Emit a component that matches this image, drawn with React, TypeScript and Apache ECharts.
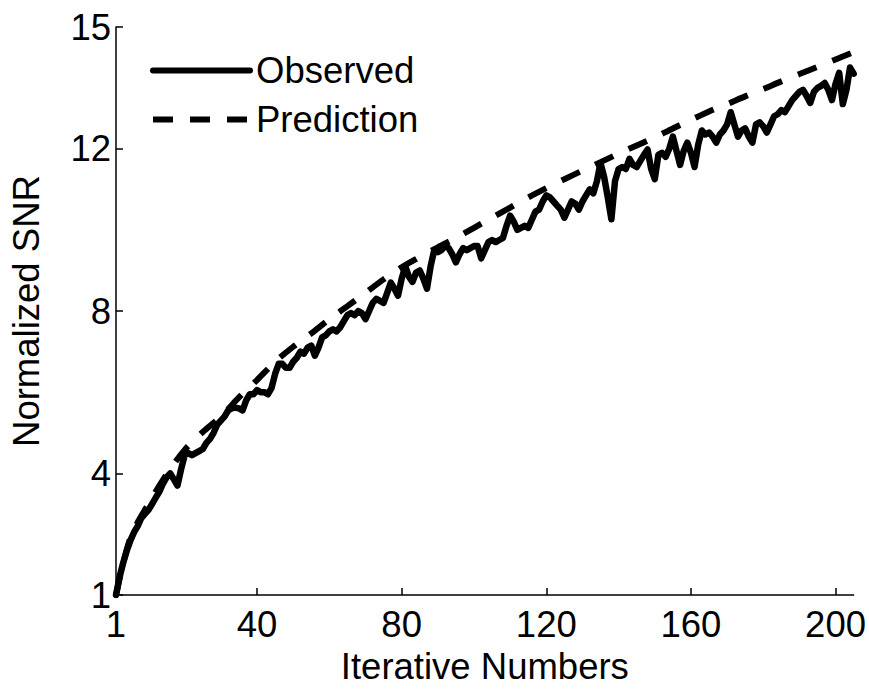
import React, { useEffect, useRef } from "react";
import * as echarts from "echarts";

const xTicks = [1, 40, 80, 120, 160, 200];
const yTicks = [1, 4, 8, 12, 15];

// Prediction curve, read at every 5th iteration
const predictionX = [1, 5, 10, 15, 20, 25, 30, 35, 40, 45, 50, 55, 60, 65, 70, 75, 80, 85, 90, 95, 100, 105, 110, 115, 120, 125, 130, 135, 140, 145, 150, 155, 160, 165, 170, 175, 180, 185, 190, 195, 200, 205];
const predictionY = [1.0, 2.42, 3.25, 3.98, 4.58, 5.02, 5.4, 5.87, 6.3, 6.75, 7.12, 7.45, 7.8, 8.12, 8.45, 8.78, 9.08, 9.33, 9.57, 9.8, 10.05, 10.3, 10.55, 10.8, 11.03, 11.25, 11.46, 11.67, 11.88, 12.08, 12.28, 12.5, 12.71, 12.92, 13.1, 13.29, 13.47, 13.66, 13.84, 14.02, 14.2, 14.38];

// Observed SNR, iterations 1..205
const observed = [
  1.0, 1.45, 1.8, 2.1, 2.35, 2.55, 2.7, 2.9, 3.0, 3.1,
  3.25, 3.4, 3.55, 3.75, 3.9, 4.0, 3.85, 3.7, 4.1, 4.45,
  4.5, 4.45, 4.5, 4.55, 4.6, 4.75, 4.85, 5.0, 5.2, 5.3,
  5.4, 5.55, 5.6, 5.62, 5.6, 5.55, 5.8, 5.95, 5.95, 6.05,
  6.0, 6.0, 5.95, 6.1, 6.45, 6.7, 6.7, 6.6, 6.6, 6.75,
  6.85, 7.0, 6.95, 7.1, 7.15, 6.9, 7.1, 7.35, 7.4, 7.5,
  7.55, 7.5, 7.6, 7.75, 7.9, 7.95, 7.9, 8.0, 7.95, 7.8,
  8.0, 8.2, 8.3, 8.25, 8.2, 8.45, 8.7, 8.55, 8.38, 8.8,
  9.1, 8.85, 8.72, 8.95, 9.0, 8.8, 8.55, 9.1, 9.5, 9.45,
  9.5, 9.6, 9.55, 9.4, 9.2, 9.4, 9.55, 9.5, 9.55, 9.6,
  9.6, 9.3, 9.5, 9.7, 9.75, 9.7, 9.75, 9.8, 10.1, 10.35,
  10.2, 10.0, 10.05, 10.1, 10.05, 10.25, 10.45, 10.5, 10.7, 10.85,
  10.8, 10.7, 10.6, 10.5, 10.3, 10.5, 10.7, 10.65, 10.5, 10.7,
  10.85, 11.0, 10.9, 11.2, 11.65, 11.3, 10.8, 10.26, 11.2, 11.5,
  11.55, 11.5, 11.75, 11.6, 11.55, 11.7, 11.85, 11.98, 11.5, 11.25,
  11.85, 11.9, 11.8, 12.0, 12.3, 11.95, 11.6, 11.95, 12.15, 11.9,
  11.55, 12.1, 12.45, 12.35, 12.4, 12.3, 12.15, 12.35, 12.45, 12.6,
  12.9, 12.6, 12.3, 12.45, 12.5, 12.3, 12.15, 12.6, 12.65, 12.55,
  12.4, 12.6, 12.8, 12.85, 12.95, 12.9, 13.05, 13.2, 13.3, 13.4,
  13.45, 13.3, 13.13, 13.4, 13.5, 13.55, 13.62, 13.45, 13.2, 13.6,
  13.87, 13.1, 13.45, 14.0, 13.85,
];

const FONT = "'Liberation Sans', Arial, Helvetica, sans-serif";
const FS = 36.5;

export default function App() {
  const ref = useRef<HTMLDivElement>(null);
  useEffect(() => {
    const chart = echarts.init(ref.current!, null, { renderer: "svg" });
    const axisLine = { show: true, lineStyle: { color: "#000", width: 1.5 } };
    chart.setOption({
      animation: false,
      backgroundColor: "#fff",
      grid: { left: 115, right: 11, top: 27, bottom: 92, containLabel: false },
      legend: {
        orient: "vertical",
        left: 150,
        top: 52,
        padding: 0,
        itemGap: 12,
        itemWidth: 97,
        itemHeight: 35,
        lineStyle: { width: 6 },
        itemStyle: { opacity: 0 },
        textStyle: { fontSize: FS, color: "#000", fontFamily: FONT, padding: [0, 0, 0, 1] },
        data: ["Observed", "Prediction"],
      },
      xAxis: {
        type: "value",
        min: 1,
        max: 205,
        axisLine,
        splitLine: { show: false },
        axisTick: { show: true, inside: true, length: 7, customValues: xTicks, lineStyle: { color: "#000", width: 1.5 } },
        axisLabel: { customValues: xTicks, fontSize: FS, color: "#000", fontFamily: FONT, margin: 11 },
        name: "Iterative Numbers",
        nameLocation: "middle",
        nameGap: 49,
        nameTextStyle: { fontSize: FS, color: "#000", fontFamily: FONT },
      },
      yAxis: {
        type: "value",
        min: 1,
        max: 15,
        axisLine,
        splitLine: { show: false },
        axisTick: { show: true, inside: true, length: 7, customValues: yTicks, lineStyle: { color: "#000", width: 1.5 } },
        axisLabel: { customValues: yTicks, fontSize: FS, color: "#000", fontFamily: FONT, margin: 5 },
        name: "Normalized SNR",
        nameLocation: "middle",
        nameGap: 71,
        nameTextStyle: { fontSize: FS, color: "#000", fontFamily: FONT },
      },
      series: [
        {
          name: "Observed",
          type: "line",
          symbol: "none",
          data: observed.map((v, i) => [i + 1, v]),
          lineStyle: { color: "#000", width: 6.5, join: "round", cap: "round" },
          itemStyle: { color: "#000" },
          z: 3,
        },
        {
          name: "Prediction",
          type: "line",
          symbol: "none",
          smooth: 0.3,
          data: predictionX.map((x, i) => [x, predictionY[i]]),
          lineStyle: { color: "#000", width: 6, type: [20, 17] },
          itemStyle: { color: "#000" },
          z: 2,
        },
      ],
    });
    return () => chart.dispose();
  }, []);
  return <div ref={ref} style={{ position: "fixed", left: 0, top: 0, width: 869, height: 690 }} />;
}
